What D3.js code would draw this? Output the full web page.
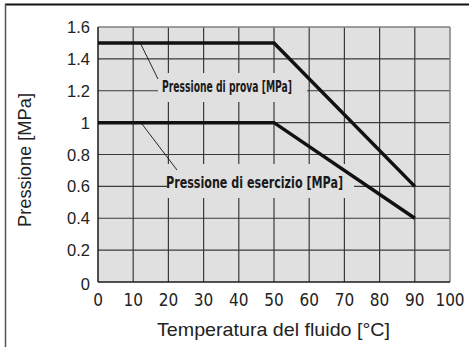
<!DOCTYPE html>
<html><head><meta charset="utf-8">
<script src="https://cdn.jsdelivr.net/npm/d3@7"></script>
<style>
html,body{margin:0;padding:0;background:#fff;}
svg{display:block;}
</style></head>
<body>
<svg id="chart" width="469" height="347"></svg>
<script>
const temperature = [0, 50, 90];
const pressioneProva = [1.5, 1.5, 0.6];
const pressioneEsercizio = [1.0, 1.0, 0.4];
const xTicks = [0, 10, 20, 30, 40, 50, 60, 70, 80, 90, 100];
const yTicks = [0, 0.2, 0.4, 0.6, 0.8, 1.0, 1.2, 1.4, 1.6];
const yTickLabels = ["0", "0.2", "0.4", "0.6", "0.8", "1", "1.2", "1.4", "1.6"];
const labelProva = "Pressione di prova [MPa]";
const labelEsercizio = "Pressione di esercizio [MPa]";
const xTitle = "Temperatura del fluido [°C]";
const yTitle = "Pressione [MPa]";

const svg = d3.select("#chart");
const L = 98, R = 450, T = 27, B = 282;
const x = d3.scaleLinear().domain([0, 100]).range([L, R]);
const y = d3.scaleLinear().domain([0, 1.6]).range([B, T]);

// outer frame
svg.append("line").attr("x1", 5).attr("x2", 469).attr("y1", 4.5).attr("y2", 4.5).attr("stroke", "#111").attr("stroke-width", 1.8);
svg.append("line").attr("x1", 5.5).attr("x2", 5.5).attr("y1", 4).attr("y2", 347).attr("stroke", "#555").attr("stroke-width", 1.5);

// plot background
svg.append("rect").attr("x", L).attr("y", T).attr("width", R - L).attr("height", B - T).attr("fill", "#e0e0e0");

// grid
const g = svg.append("g");
g.selectAll(".vg").data(xTicks.slice(1, -1)).join("line")
  .attr("x1", d => x(d)).attr("x2", d => x(d)).attr("y1", T).attr("y2", B)
  .attr("stroke", "#3a3a3a").attr("stroke-width", 1.2);
g.selectAll(".hg").data(yTicks.slice(1, -1)).join("line")
  .attr("x1", L).attr("x2", R).attr("y1", d => y(d)).attr("y2", d => y(d))
  .attr("stroke", "#3a3a3a").attr("stroke-width", 1.2);

// border: top/right gray, left/bottom dark
svg.append("line").attr("x1", L).attr("x2", R).attr("y1", T).attr("y2", T).attr("stroke", "#808080").attr("stroke-width", 1.5);
svg.append("line").attr("x1", R).attr("x2", R).attr("y1", T).attr("y2", B).attr("stroke", "#808080").attr("stroke-width", 1.5);
svg.append("line").attr("x1", L).attr("x2", L).attr("y1", T).attr("y2", B).attr("stroke", "#1a1a1a").attr("stroke-width", 1.5);
svg.append("line").attr("x1", L).attr("x2", R).attr("y1", B).attr("y2", B).attr("stroke", "#1a1a1a").attr("stroke-width", 1.5);

// label boxes (hide gridlines behind labels)
svg.append("rect").attr("x", 158).attr("y", 73).attr("width", 149).attr("height", 29).attr("fill", "#e0e0e0");
svg.append("rect").attr("x", 167).attr("y", 164).attr("width", 187).attr("height", 34).attr("fill", "#e0e0e0");

// series lines
const line = d3.line().x((d, i) => x(temperature[i])).y(d => y(d));
svg.append("path").datum(pressioneProva).attr("d", line).attr("fill", "none").attr("stroke", "#111").attr("stroke-width", 3.5).attr("stroke-linejoin", "miter");
svg.append("path").datum(pressioneEsercizio).attr("d", line).attr("fill", "none").attr("stroke", "#111").attr("stroke-width", 3.5).attr("stroke-linejoin", "miter");

// leader lines
svg.append("line").attr("x1", x(12)).attr("y1", y(1.5)).attr("x2", 158).attr("y2", 79).attr("stroke", "#111").attr("stroke-width", 0.9);
svg.append("line").attr("x1", x(12.2)).attr("y1", y(1.0)).attr("x2", 177).attr("y2", 170).attr("stroke", "#111").attr("stroke-width", 0.9);

// series labels
const condensed = "'Liberation Sans Narrow', 'Arial Narrow', 'DejaVu Sans Condensed', sans-serif";
svg.append("text").attr("x", 162).attr("y", 92).text(labelProva)
  .attr("font-family", condensed).attr("font-weight", "bold").attr("font-size", 15.5)
  .attr("fill", "#1a1a1a").attr("textLength", 130).attr("lengthAdjust", "spacingAndGlyphs");
svg.append("text").attr("x", 166).attr("y", 188).text(labelEsercizio)
  .attr("font-family", condensed).attr("font-weight", "bold").attr("font-size", 15.5)
  .attr("fill", "#1a1a1a").attr("textLength", 177).attr("lengthAdjust", "spacingAndGlyphs");

// y tick labels
svg.selectAll(".yt").data(yTicks).join("text")
  .attr("x", 90).attr("y", (d, i) => i === 0 ? y(d) + 8 : y(d) + 6)
  .attr("text-anchor", "end").attr("font-family", "'Liberation Sans', Arial, sans-serif")
  .attr("font-size", 16.5).attr("fill", "#222").text((d, i) => yTickLabels[i]);

// x tick labels
svg.selectAll(".xt").data(xTicks).join("text")
  .attr("x", d => x(d)).attr("y", 306)
  .attr("text-anchor", "middle").attr("font-family", condensed)
  .attr("font-size", 17).attr("fill", "#222").text(d => d);

// axis titles
svg.append("text").attr("x", 157).attr("y", 336)
  .attr("font-family", "'Liberation Sans', Arial, sans-serif").attr("font-size", 18.5).attr("fill", "#222")
  .attr("textLength", 233).attr("lengthAdjust", "spacingAndGlyphs").text(xTitle);
svg.append("text").attr("transform", "translate(31,227) rotate(-90)")
  .attr("font-family", "'Liberation Sans', Arial, sans-serif").attr("font-size", 18).attr("fill", "#222")
  .attr("textLength", 134).attr("lengthAdjust", "spacingAndGlyphs").text(yTitle);
</script>
</body></html>
